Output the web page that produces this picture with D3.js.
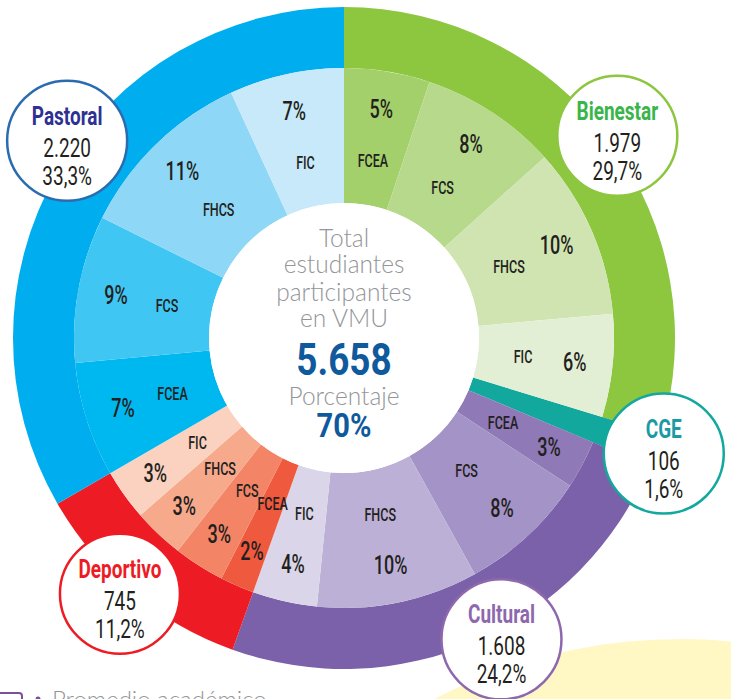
<!DOCTYPE html>
<html><head><meta charset="utf-8">
<script src="https://cdn.jsdelivr.net/npm/d3@7/dist/d3.min.js"></script>
<style>
html,body{margin:0;padding:0;background:#fff;}
svg{display:block;}
.cond{font-family:"Roboto","Liberation Sans",sans-serif;}
.light{font-family:"Lato","Open Sans",sans-serif;font-weight:300;}
</style></head>
<body>
<script>
// ---- data ----
const categories = ["Bienestar", "CGE", "Cultural", "Deportivo", "Pastoral"];
const students   = [1979, 106, 1608, 745, 2220];
const studentLabels = ["1.979", "106", "1.608", "745", "2.220"];
const shareLabels   = ["29,7%", "1,6%", "24,2%", "11,2%", "33,3%"];
const faculties     = ["FCEA", "FCS", "FHCS", "FIC"];
const bienestarPct  = [5, 8, 10, 6];
const cgePct        = [];
const culturalPct   = [3, 8, 10, 4];
const deportivoPct  = [2, 3, 3, 3];
const pastoralPct   = [7, 9, 11, 7];
const centerLines   = ["Total", "estudiantes", "participantes", "en VMU"];
const totalLabel    = "5.658";
const pctTitle      = "Porcentaje";
const pctLabel      = "70%";
const footerText    = "Promedio académico";

// ---- styles ----
const outerColors = ["#8DC63F", "#13A89E", "#7B61A9", "#ED1C24", "#00AEEF"];
const titleColors = ["#39B54A", "#1B9AA6", "#8E68AD", "#ED1C24", "#2E3192"];
const strokeColors = ["#8DC63F", "#13A89E", "#8E68AD", "#ED1C24", "#2B6CB0"];
const innerColors = [
  ["#A3D06A", "#B7D98C", "#D0E4B1", "#E3EFD4"],
  [],
  ["#8F79B7", "#A493C6", "#BCB0D7", "#DBD5EA"],
  ["#EF593D", "#F38566", "#F7A98C", "#FBD2C0"],
  ["#00B8F0", "#40C6F3", "#8FD7F6", "#C8E9F9"]
];
const calloutShift = [0, 0, -3.8, 1.4, 5.5]; // degrees
const SX = 0.72; // horizontal condensing of the narrow labels

const W = 731, H = 699, cx = 344, cy = 338;
const r0 = 135, r1 = 270, r2 = 331;

const svg = d3.select("body").append("svg").attr("width", W).attr("height", H);

// condensed text helper
function ctext(parent, x, y, str, size, opts = {}) {
  const gg = parent.append("g").attr("transform", `translate(${x},${y}) scale(${opts.sx || SX},1)`);
  return gg.append("text").attr("class", "cond").attr("text-anchor", "middle")
    .attr("dy", opts.dy || 0).attr("font-size", size)
    .attr("font-weight", opts.weight || 500).attr("fill", opts.fill || "#231F20").text(str);
}

// background decorations
svg.append("circle").attr("cx", 680).attr("cy", 1172).attr("r", 533).attr("fill", "#FFF8C5");

const g = svg.append("g").attr("transform", `translate(${cx},${cy})`);

const pie = d3.pie().sort(null).value(d => d).startAngle(0).endAngle(2 * Math.PI);
const outerArcs = pie(students);
const groups = [bienestarPct, cgePct, culturalPct, deportivoPct, pastoralPct];

const arcOuter = d3.arc().innerRadius(r1).outerRadius(r2);
const arcInner = d3.arc().innerRadius(r0).outerRadius(r1);
const arcFull = d3.arc().innerRadius(r0).outerRadius(r2);

// outer ring
g.selectAll("path.outer").data(outerArcs).enter().append("path")
  .attr("class", "outer")
  .attr("d", (d, i) => groups[i].length ? arcOuter(d) : arcFull(d))
  .attr("fill", (d, i) => outerColors[i]);

// inner ring
const innerData = [];
outerArcs.forEach((p, i) => {
  const vals = groups[i];
  if (!vals.length) return;
  const sub = d3.pie().sort(null).value(d => d).startAngle(p.startAngle).endAngle(p.endAngle)(vals);
  sub.forEach((s, j) => innerData.push({arc: s, cat: i, fac: j, pct: vals[j]}));
});

g.selectAll("path.inner").data(innerData).enter().append("path")
  .attr("class", "inner")
  .attr("d", d => arcInner(d.arc))
  .attr("fill", d => innerColors[d.cat][d.fac]);

const nameArc = d3.arc().innerRadius(180).outerRadius(180);
const pctArc = d3.arc().innerRadius(232).outerRadius(232);

innerData.forEach(d => {
  const [nx, ny] = nameArc.centroid(d.arc);
  ctext(g, nx, ny, faculties[d.fac], 19, {dy: "0.36em", sx: 0.66});
  const [px, py] = pctArc.centroid(d.arc);
  ctext(g, px, py, d.pct + "%", 25, {dy: "0.36em", sx: 0.72});
});

// center
g.append("circle").attr("r", r0).attr("fill", "#fff");
const ct = g.append("g").attr("class", "light").attr("fill", "#939598").attr("text-anchor", "middle");
const lineY = [-91, -65, -37, -11];
centerLines.forEach((t, i) => ct.append("text").attr("y", lineY[i]).attr("font-size", 24.5).text(t));
ctext(g, 0, 37, totalLabel, 45, {weight: 700, fill: "#0F5A9C", sx: 0.82});
ct.append("text").attr("y", 67).attr("font-size", 24.5).text(pctTitle);
ctext(g, 0, 99, pctLabel, 33, {weight: 700, fill: "#0F5A9C", sx: 0.88});

// callouts
const rC = 340;
outerArcs.forEach((p, i) => {
  const a = (p.startAngle + p.endAngle) / 2 + calloutShift[i] * Math.PI / 180;
  const x = rC * Math.sin(a), y = -rC * Math.cos(a);
  const c = g.append("g").attr("transform", `translate(${x},${y})`);
  c.append("circle").attr("r", 60).attr("fill", "#fff").attr("stroke", strokeColors[i]).attr("stroke-width", 2.5);
  ctext(c, 0, -16, categories[i], 25, {weight: 700, fill: titleColors[i], sx: 0.76});
  ctext(c, 0, 16, studentLabels[i], 25, {weight: 400, sx: 0.76});
  ctext(c, 0, 44, shareLabels[i], 25, {weight: 400, sx: 0.76});
});

// footer (cut off at the bottom edge, as in the source page)
svg.append("rect").attr("x", -10).attr("y", 693).attr("width", 32).attr("height", 20).attr("rx", 3)
  .attr("fill", "none").attr("stroke", "#7B4FA0").attr("stroke-width", 2);
svg.append("circle").attr("cx", 38).attr("cy", 699).attr("r", 2.5).attr("fill", "#7B4FA0");
svg.append("text").attr("class", "light").attr("x", 52).attr("y", 708).attr("font-size", 24)
  .attr("fill", "#939598").text(footerText);
</script>
</body></html>
